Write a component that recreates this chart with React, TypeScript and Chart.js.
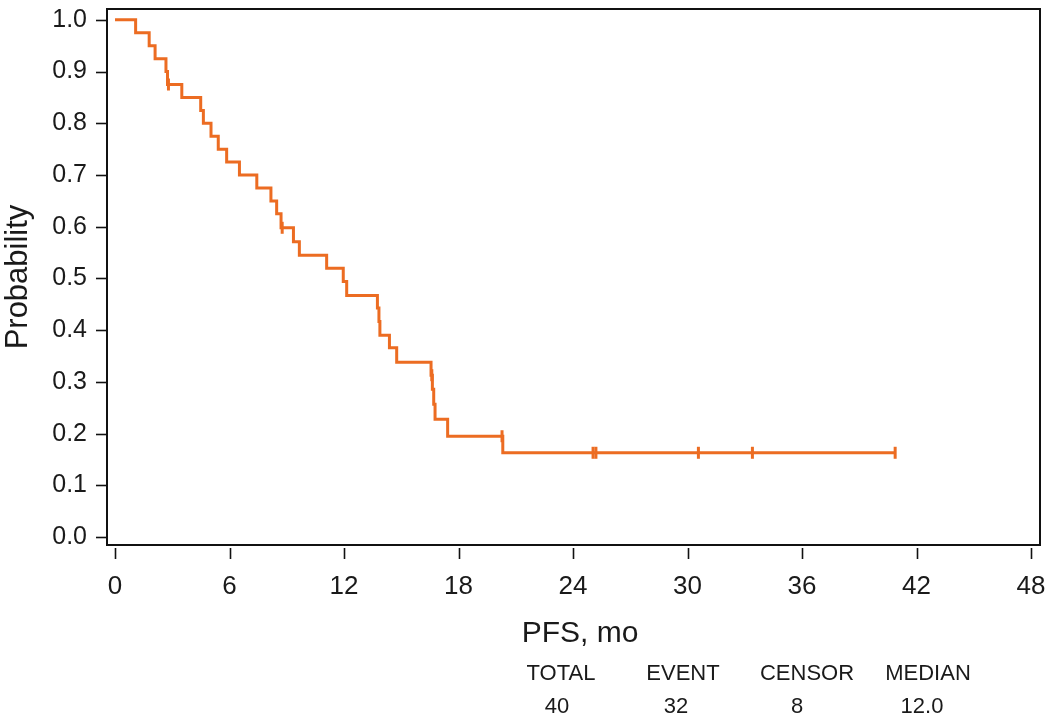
import React, { useEffect, useRef } from "react";
import { Chart, registerables } from "chart.js";

Chart.register(...registerables);

const FONT = '"Liberation Sans", Arial, Helvetica, sans-serif';
const ORANGE = "#EC6C22";
const INK = "#1a1a1a";

const xTickValues = [0, 6, 12, 18, 24, 30, 36, 42, 48];
const yTickValues = [0, 0.1, 0.2, 0.3, 0.4, 0.5, 0.6, 0.7, 0.8, 0.9, 1.0];

// Kaplan-Meier steps: time (months) at which the curve drops, and the level after the drop
const eventTimes = [
  0, 1.08, 1.79, 2.1, 2.67, 2.75, 3.5, 4.49, 4.63, 5.03, 5.41, 5.85, 6.52, 7.43,
  8.17, 8.47, 8.7, 9.35, 9.66, 11.09, 11.96, 12.14, 13.75, 13.83, 13.88, 14.38,
  14.76, 16.56, 16.63, 16.7, 16.77, 17.43, 20.32,
];
const survival = [
  1.0, 0.975, 0.95, 0.925, 0.9, 0.875, 0.85, 0.825, 0.8, 0.775, 0.75, 0.725, 0.7,
  0.675, 0.65, 0.625, 0.598, 0.571, 0.545, 0.52, 0.494, 0.467, 0.443, 0.417,
  0.39, 0.366, 0.338, 0.313, 0.286, 0.257, 0.228, 0.195, 0.163,
];
const lastFollowUp = 40.88;
const censorTimes = [2.8, 8.76, 16.6, 20.28, 25.05, 25.2, 30.57, 33.4, 40.88];

const xTitle = "PFS, mo";
const yTitle = "Probability";
const tableHeaders = ["TOTAL", "EVENT", "CENSOR", "MEDIAN"];
const tableValues = ["40", "32", "8", "12.0"];

function levelAt(t: number): number {
  let v = survival[0];
  for (let i = 0; i < eventTimes.length; i++) {
    if (eventTimes[i] <= t) v = survival[i];
  }
  return v;
}

const framePlugin = {
  id: "kmFrame",
  afterDraw(chart: any) {
    const { ctx, chartArea } = chart;
    const { left, top, right, bottom } = chartArea;
    const xs = chart.scales.x;
    const ys = chart.scales.y;
    ctx.save();
    ctx.strokeStyle = "#111";
    ctx.lineWidth = 2;
    ctx.strokeRect(left, top, right - left, bottom - top);
    ctx.lineWidth = 1.6;
    xTickValues.forEach((v) => {
      const px = Math.round(xs.getPixelForValue(v)) + 0.5;
      ctx.beginPath();
      ctx.moveTo(px, bottom + 3);
      ctx.lineTo(px, bottom + 14);
      ctx.stroke();
    });
    yTickValues.forEach((v) => {
      const py = Math.round(ys.getPixelForValue(v)) + 0.5;
      ctx.beginPath();
      ctx.moveTo(left - 11, py);
      ctx.lineTo(left, py);
      ctx.stroke();
    });
    ctx.fillStyle = INK;
    ctx.textAlign = "center";
    ctx.textBaseline = "middle";
    ctx.font = `30px ${FONT}`;
    ctx.fillText(xTitle, 580, 634);
    ctx.font = `22px ${FONT}`;
    const headerX = [561, 683, 807, 928];
    const valueX = [557, 676, 797, 922];
    tableHeaders.forEach((h, i) => ctx.fillText(h, headerX[i], 674));
    tableValues.forEach((h, i) => ctx.fillText(h, valueX[i], 707));
    ctx.restore();
  },
};

export default function App() {
  const canvasRef = useRef<HTMLCanvasElement | null>(null);

  useEffect(() => {
    if (!canvasRef.current) return;
    Chart.defaults.font.family = FONT;
    const curve = eventTimes.map((t, i) => ({ x: t, y: survival[i] }));
    curve.push({ x: lastFollowUp, y: survival[survival.length - 1] });
    const censors = censorTimes.map((t) => ({ x: t, y: levelAt(t) }));

    const chart = new Chart(canvasRef.current, {
      type: "line",
      data: {
        datasets: [
          {
            label: "PFS",
            data: curve,
            stepped: "before",
            borderColor: ORANGE,
            borderWidth: 3,
            pointRadius: 0,
            fill: false,
          },
          {
            label: "Censored",
            data: censors,
            showLine: false,
            pointStyle: "line",
            rotation: 90,
            pointRadius: 6,
            borderColor: ORANGE,
            backgroundColor: ORANGE,
            borderWidth: 3,
          },
        ],
      },
      options: {
        animation: false,
        responsive: false,
        devicePixelRatio: 1,
        layout: { padding: { left: 0, top: 4, right: 10, bottom: 0 } },
        plugins: { legend: { display: false }, tooltip: { enabled: false } },
        scales: {
          x: {
            type: "linear",
            min: -0.42,
            max: 48.47,
            afterBuildTicks: (s: any) => {
              s.ticks = xTickValues.map((v) => ({ value: v }));
            },
            afterFit: (s: any) => {
              s.height = 172;
              s.paddingLeft = 0;
              s.paddingRight = 0;
            },
            grid: {
              drawOnChartArea: false,
              drawTicks: true,
              tickLength: 14,
              color: "rgba(0,0,0,0)",
              tickColor: "rgba(0,0,0,0)",
            },
            border: { display: false },
            ticks: {
              autoSkip: false,
              maxRotation: 0,
              padding: 12,
              color: INK,
              font: { size: 26, family: FONT },
              callback: (v: any) => String(v),
            },
          },
          y: {
            type: "linear",
            min: -0.0153,
            max: 1.021,
            afterBuildTicks: (s: any) => {
              s.ticks = yTickValues.map((v) => ({ value: v }));
            },
            afterFit: (s: any) => {
              s.width = 107;
              s.paddingTop = 0;
              s.paddingBottom = 0;
            },
            grid: {
              drawOnChartArea: false,
              drawTicks: true,
              tickLength: 12,
              color: "rgba(0,0,0,0)",
              tickColor: "rgba(0,0,0,0)",
            },
            border: { display: false },
            ticks: {
              padding: 8,
              color: INK,
              font: { size: 25, family: FONT },
              callback: (v: any) => Number(v).toFixed(1),
            },
            title: {
              display: true,
              text: yTitle,
              color: INK,
              font: { size: 31, family: FONT },
              padding: { top: 0, bottom: 0 },
            },
          },
        },
      },
      plugins: [framePlugin],
    });
    return () => chart.destroy();
  }, []);

  return (
    <div style={{ position: "fixed", left: 0, top: 0, width: 1050, height: 717, background: "#fff" }}>
      <canvas ref={canvasRef} width={1050} height={717} />
    </div>
  );
}
